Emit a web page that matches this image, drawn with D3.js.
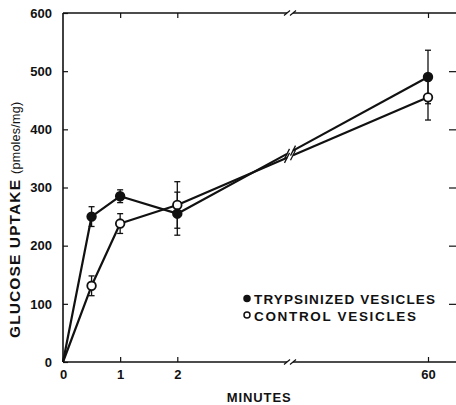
<!DOCTYPE html>
<html>
<head>
<meta charset="utf-8">
<script src="https://cdn.jsdelivr.net/npm/d3@7"></script>
<style>
  html, body { margin: 0; padding: 0; background: #fff; }
  svg { display: block; }
  text { font-family: Arial, "Liberation Sans", Helvetica, sans-serif; fill: #111; }
</style>
</head>
<body>
<svg id="chart" width="456" height="405"></svg>
<script>
// ---- data ----
const minutes = [0, 0.5, 1, 2, 60];
const trypsinized = [0, 250, 285, 255, 490];
const trypsinizedErr = [0, 17, 11, 37, 46];
const control = [0, 131, 238, 270, 455];
const controlErr = [0, 17, 17, 40, 39];
const xTickValues = [0, 1, 2, 60];
const yTickValues = [0, 100, 200, 300, 400, 500, 600];
const legendLabels = ["TRYPSINIZED VESICLES", "CONTROL VESICLES"];
const xTitle = "MINUTES";
const yTitleMain = "GLUCOSE UPTAKE";
const yTitleUnit = "(pmoles/mg)";

(function () {
// ---- layout ----
const svg = d3.select("#chart");
const pLeft = 63, pRight = 457, pTop = 13, pBottom = 362;
const breakX = 290, gapHalf = 3;
const ink = "#111";

const x = d3.scaleLinear().domain([0, 2, 60]).range([pLeft, 177.3, 428]);
const y = d3.scaleLinear().domain([0, 600]).range([pBottom, pTop]);

// bottom axis (ticks inward)
const gx = svg.append("g").attr("transform", `translate(0,${pBottom})`)
  .call(d3.axisBottom(x).tickValues(xTickValues).tickFormat(d3.format("d"))
    .tickSizeInner(-5).tickSizeOuter(0).tickPadding(8));
gx.select(".domain").remove();
gx.selectAll(".tick line").attr("stroke", ink).attr("stroke-width", 1.2);
gx.selectAll(".tick text").attr("font-size", 13).attr("font-weight", "bold").attr("fill", ink).attr("font-family", "Arial, 'Liberation Sans', sans-serif");

// top axis (ticks inward, no labels)
const gt = svg.append("g").attr("transform", `translate(0,${pTop})`)
  .call(d3.axisTop(x).tickValues([1, 2, 60]).tickFormat("")
    .tickSizeInner(-5).tickSizeOuter(0));
gt.select(".domain").remove();
gt.selectAll(".tick line").attr("stroke", ink).attr("stroke-width", 1.2);

// left axis
const gy = svg.append("g").attr("transform", `translate(${pLeft},0)`)
  .call(d3.axisLeft(y).tickValues(yTickValues).tickFormat(d3.format("d"))
    .tickSizeInner(-5).tickSizeOuter(0).tickPadding(11));
gy.select(".domain").remove();
gy.selectAll(".tick line").attr("stroke", ink).attr("stroke-width", 1.2);
gy.selectAll(".tick text").attr("font-size", 13).attr("font-weight", "bold").attr("fill", ink).attr("font-family", "Arial, 'Liberation Sans', sans-serif");

// right axis (ticks only)
const gr = svg.append("g").attr("transform", `translate(${pRight},0)`)
  .call(d3.axisRight(y).tickValues(yTickValues.slice(1, -1)).tickFormat("")
    .tickSizeInner(-8).tickSizeOuter(0));
gr.select(".domain").remove();
gr.selectAll(".tick line").attr("stroke", ink).attr("stroke-width", 1.2);

// frame lines with break
const frame = svg.append("g").attr("stroke", ink).attr("stroke-width", 1.6).attr("fill", "none");
frame.append("line").attr("x1", pLeft).attr("x2", pLeft).attr("y1", pTop).attr("y2", pBottom);
[pTop, pBottom].forEach(yy => {
  frame.append("line").attr("x1", pLeft).attr("x2", breakX - gapHalf).attr("y1", yy).attr("y2", yy);
  frame.append("line").attr("x1", breakX + gapHalf).attr("x2", pRight).attr("y1", yy).attr("y2", yy);
  [-gapHalf, gapHalf].forEach(dx => {
    frame.append("line").attr("x1", breakX + dx - 3).attr("y1", yy + 2.5)
      .attr("x2", breakX + dx + 3).attr("y2", yy - 2.5).attr("stroke-width", 1.2);
  });
});

// series
const seriesList = [
  { vals: trypsinized, errs: trypsinizedErr, filled: true },
  { vals: control, errs: controlErr, filled: false }
];

seriesList.forEach(s => {
  const pts = minutes.map((m, i) => ({ m, v: s.vals[i], e: s.errs[i] }));
  const g = svg.append("g");
  // error bars
  pts.forEach(p => {
    if (!p.e) return;
    const cx = x(p.m), y1 = y(p.v + p.e), y2 = y(p.v - p.e);
    g.append("line").attr("x1", cx).attr("x2", cx).attr("y1", y1).attr("y2", y2)
      .attr("stroke", ink).attr("stroke-width", 1.3);
    [y1, y2].forEach(yy => g.append("line").attr("x1", cx - 3).attr("x2", cx + 3)
      .attr("y1", yy).attr("y2", yy).attr("stroke", ink).attr("stroke-width", 1.3));
  });
  // line segments, broken at breakX
  const line = d3.line().x(d => d[0]).y(d => d[1]);
  const px = pts.map(p => [x(p.m), y(p.v)]);
  const idx = px.findIndex(p => p[0] > breakX);
  const a = px[idx - 1], b = px[idx];
  const yAt = xx => a[1] + (b[1] - a[1]) * (xx - a[0]) / (b[0] - a[0]);
  const xa = breakX - gapHalf, xb = breakX + gapHalf;
  const seg1 = px.slice(0, idx).concat([[xa, yAt(xa)]]);
  const seg2 = [[xb, yAt(xb)]].concat(px.slice(idx));
  [seg1, seg2].forEach(seg => g.append("path").attr("d", line(seg))
    .attr("fill", "none").attr("stroke", ink).attr("stroke-width", 2.2).attr("stroke-linejoin", "round"));
  [xa, xb].forEach(xx => g.append("line")
    .attr("x1", xx - 2.5).attr("y1", yAt(xx) + 5).attr("x2", xx + 2.5).attr("y2", yAt(xx) - 5)
    .attr("stroke", ink).attr("stroke-width", 1.3));
  // markers
  g.selectAll("circle").data(pts.filter(p => p.m > 0)).join("circle")
    .attr("cx", p => x(p.m)).attr("cy", p => y(p.v)).attr("r", 4.3)
    .attr("fill", s.filled ? ink : "#fff").attr("stroke", ink).attr("stroke-width", 1.8);
});

// legend
const legend = svg.append("g");
const legendY = [300, 316.5];
const legendW = [181, 162];
legendLabels.forEach((lab, i) => {
  legend.append("circle").attr("cx", 247).attr("cy", legendY[i] - 1.5).attr("r", 3)
    .attr("fill", i === 0 ? ink : "#fff").attr("stroke", ink).attr("stroke-width", 1.5);
  legend.append("text").attr("x", 254).attr("y", legendY[i] + 4.3)
    .attr("font-size", 13.5).attr("font-weight", "bold")
    .attr("textLength", legendW[i]).attr("lengthAdjust", "spacing").text(lab);
});

// axis titles
svg.append("text").attr("x", 258.7).attr("y", 401.5).attr("text-anchor", "middle")
  .attr("font-size", 13).attr("font-weight", "bold")
  .attr("textLength", 64).attr("lengthAdjust", "spacing").text(xTitle);

const yt = svg.append("text").attr("transform", "translate(20,338) rotate(-90)")
  .attr("text-anchor", "start");
yt.append("tspan").attr("font-size", 15.5).attr("font-weight", "bold")
  .attr("textLength", 158).attr("lengthAdjust", "spacing").text(yTitleMain);
yt.append("tspan").attr("dx", 5).attr("font-size", 12.5)
  .attr("textLength", 72).attr("lengthAdjust", "spacing").text(yTitleUnit);
})();
</script>
</body>
</html>
